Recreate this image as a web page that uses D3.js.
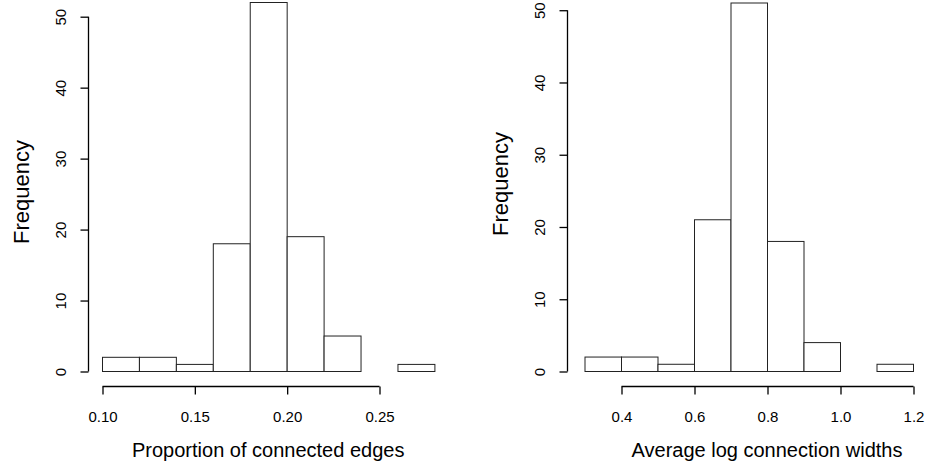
<!DOCTYPE html>
<html><head><meta charset="utf-8">
<script src="https://cdn.jsdelivr.net/npm/d3@7"></script>
<style>body{margin:0;background:#fff}svg{display:block}text{font-family:"Liberation Sans",Arial,sans-serif;fill:#000}
.tk text{font-size:15px}</style>
</head><body><svg id="c" width="927" height="463"></svg>
<script>
// Left histogram
const leftBreaks = [0.10,0.12,0.14,0.16,0.18,0.20,0.22,0.24,0.26,0.28];
const leftCounts = [2,2,1,18,52,19,5,0,1];
const leftXTicks = [0.10,0.15,0.20,0.25];
const leftXLabels = ["0.10","0.15","0.20","0.25"];
const leftYTicks = [0,10,20,30,40,50];
const leftTitle = "Proportion of connected edges";
// Right histogram
const rightBreaks = [0.3,0.4,0.5,0.6,0.7,0.8,0.9,1.0,1.1,1.2];
const rightCounts = [2,2,1,21,51,18,4,0,1];
const rightXTicks = [0.4,0.6,0.8,1.0,1.2];
const rightXLabels = ["0.4","0.6","0.8","1.0","1.2"];
const rightYTicks = [0,10,20,30,40,50];
const rightTitle = "Average log connection widths";
const yTitle = "Frequency";

const svg = d3.select("#c");

function panel(o){
  const g = svg.append("g");
  const x = d3.scaleLinear().domain(o.xDom).range(o.xRange);
  const maxC = d3.max(o.counts);
  const y = d3.scaleLinear().domain([0, maxC]).range([371, o.yTop]);
  const bins = o.counts.map((c,i)=>({x0:o.breaks[i], x1:o.breaks[i+1], c}));
  g.selectAll("rect.bar").data(bins).join("rect")
    .attr("x", d=>x(d.x0)+0.5).attr("width", d=>x(d.x1)-x(d.x0))
    .attr("y", d=>y(d.c)+0.5).attr("height", d=>y(0)-y(d.c))
    .attr("fill","#fff").attr("stroke","#222").attr("stroke-width",1);
  // x axis
  const xa = g.append("g").attr("class","tk").attr("transform","translate(0.5,386.5)")
    .call(d3.axisBottom(x).tickValues(o.xTicks).tickFormat((d,i)=>o.xLabels[i]).tickSize(8).tickSizeOuter(0).tickPadding(17));
  xa.attr("font-size",15);
  xa.select(".domain").attr("stroke","#000").attr("stroke-width",1.3).attr("d",`M${x(o.xTicks[0])},0H${x(o.xTicks[o.xTicks.length-1])}`);
  xa.selectAll(".tick line").attr("stroke","#000").attr("stroke-width",1.3);
  xa.selectAll("text").attr("font-size",15).attr("fill","#000");
  // y axis
  const ya = g.append("g").attr("class","tk").attr("transform",`translate(${o.yAxisX+0.5},0.5)`)
    .call(d3.axisLeft(y).tickValues(o.yTicks).tickSize(8).tickSizeOuter(0).tickPadding(0).tickFormat(d3.format("d")));
  ya.attr("font-size",15);
  ya.select(".domain").attr("stroke","#000").attr("stroke-width",1.3).attr("d",`M0,${y(0)}V${y(50)}`);
  ya.selectAll(".tick line").attr("stroke","#000").attr("stroke-width",1.3);
  ya.selectAll(".tick text").attr("font-size",15).attr("fill","#000").attr("x",null).attr("dy",null)
    .attr("text-anchor","middle").attr("transform","translate(-22.5,0) rotate(-90)");
  // titles
  g.append("text").attr("x",(o.xRange[0]+x(o.breaks[o.breaks.length-1]))/2).attr("y",457)
    .attr("text-anchor","middle").attr("font-size",20).text(o.title);
  g.append("text").attr("transform",`translate(${o.yAxisX-59.5},${o.yTitleY}) rotate(-90)`)
    .attr("text-anchor","middle").attr("font-size",22).text(yTitle);
}

panel({breaks:leftBreaks,counts:leftCounts,xTicks:leftXTicks,xLabels:leftXLabels,yTicks:leftYTicks,title:leftTitle,
  xDom:[0.10,0.25],xRange:[102,379],yTop:2,yAxisX:88,yTitleY:192});
panel({breaks:rightBreaks,counts:rightCounts,xTicks:rightXTicks,xLabels:rightXLabels,yTicks:rightYTicks,title:rightTitle,
  xDom:[0.4,1.2],xRange:[621,913],yTop:2.5,yAxisX:567,yTitleY:184});
</script></body></html>
